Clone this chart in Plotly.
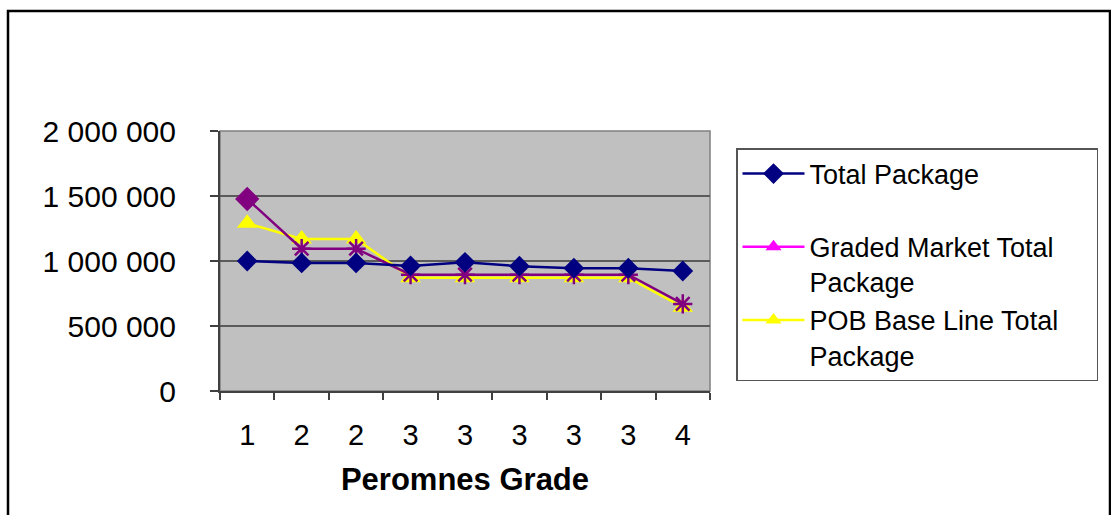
import plotly.graph_objects as go

# ---- data ----
grade_labels = ["1", "2", "2", "3", "3", "3", "3", "3", "4"]
total_package = [1000000, 985000, 985000, 962000, 990000, 960000, 945000, 945000, 923000]
graded_market = [1477000, 1095000, 1095000, 895000, 895000, 895000, 895000, 895000, 670000]
pob_base_line = [1290000, 1170000, 1170000, 872000, 872000, 872000, 872000, 872000, 645000]
y_tick_vals = [0, 500000, 1000000, 1500000, 2000000]
y_tick_text = ["0", "500 000", "1 000 000", "1 500 000", "2 000 000"]
x_title = "Peromnes Grade"
series_names = ["Total Package", "Graded Market Total<br>Package", "POB Base Line Total<br>Package"]

xs = list(range(len(grade_labels)))

FONT = "Liberation Sans, Arial, sans-serif"
NAVY = "#000080"
PURPLE = "#800080"
YELLOW = "#FFFF00"
MAGENTA = "#FF00FF"
PAD = "&nbsp;" * 5  # widens the legend box like the reference

fig = go.Figure()

# yellow series (drawn first, underneath)
fig.add_trace(go.Scatter(
    x=xs, y=pob_base_line, mode="lines+markers", showlegend=False,
    line=dict(color=YELLOW, width=2.5),
    marker=dict(symbol="triangle-up", size=18, color=YELLOW),
    name="POB Base Line Total Package"))

# purple series
fig.add_trace(go.Scatter(
    x=xs, y=graded_market, mode="lines+markers", showlegend=False,
    line=dict(color=PURPLE, width=2.5),
    marker=dict(symbol=["diamond"] + ["asterisk-open"] * (len(xs) - 1), size=16,
                color=PURPLE, line=dict(color=PURPLE, width=2.5)),
    name="Graded Market Total Package"))

# navy series
fig.add_trace(go.Scatter(
    x=xs, y=total_package, mode="lines+markers",
    line=dict(color=NAVY, width=2.5),
    marker=dict(symbol="diamond", size=16, color=NAVY),
    name=series_names[0] + "<br> ", legendrank=1))

# legend proxies
fig.add_trace(go.Scatter(
    x=[None], y=[None], mode="lines+markers",
    line=dict(color=MAGENTA, width=2.5),
    marker=dict(symbol="triangle-up", size=14, color=MAGENTA),
    name=series_names[1].replace("<br>", PAD + "<br>"), legendrank=2))
fig.add_trace(go.Scatter(
    x=[None], y=[None], mode="lines+markers",
    line=dict(color=YELLOW, width=2.5),
    marker=dict(symbol="triangle-up", size=14, color=YELLOW),
    name=series_names[2], legendrank=3))

L, R, T, B = 220, 710, 131, 391
W, H = 1111, 515

def px_x(p):
    return (p - L) / (R - L)

def px_y(p):
    return (B - p) / (B - T)

fig.update_layout(
    width=W, height=H,
    margin=dict(l=L, r=W - R, t=T, b=H - B, autoexpand=False),
    paper_bgcolor="white",
    plot_bgcolor="#C0C0C0",
    font=dict(family=FONT, color="black", size=28),
    xaxis=dict(
        range=[-0.5, len(grade_labels) - 0.5],
        tickmode="array", tickvals=xs, ticktext=grade_labels,
        ticks="", showgrid=False, zeroline=False,
        showline=True, linecolor="#404040", linewidth=2,
        tickfont=dict(size=29, family=FONT),
        ticklabelstandoff=17,
        minor=dict(tickmode="array",
                   tickvals=[i - 0.5 for i in range(len(grade_labels) + 1)],
                   ticks="outside", ticklen=7, tickwidth=1.5, tickcolor="#404040",
                   showgrid=False),
        title=dict(text="<b>" + x_title + "</b>", font=dict(size=31, family=FONT), standoff=19),
    ),
    yaxis=dict(
        range=[0, 2000000],
        tickmode="array", tickvals=y_tick_vals, ticktext=y_tick_text,
        ticks="outside", ticklen=8, tickwidth=1.5, tickcolor="#404040",
        showgrid=True, gridcolor="#5A5A5A", gridwidth=1.5,
        zeroline=False, showline=True, linecolor="#404040", linewidth=2,
        tickfont=dict(size=30, family=FONT),
        ticklabelstandoff=28,
    ),
    legend=dict(
        x=px_x(736), y=px_y(148), xanchor="left", yanchor="top",
        bgcolor="white", bordercolor="#555555", borderwidth=1.5,
        font=dict(size=27, family=FONT, color="black"),
        valign="top", itemwidth=62,
        tracegroupgap=0,
    ),
    shapes=[
        dict(type="rect", xref="paper", yref="paper", x0=0, x1=1, y0=0, y1=1,
             line=dict(color="#808080", width=1.5), layer="below"),
        dict(type="rect", xref="paper", yref="paper",
             x0=px_x(8), x1=px_x(1110), y0=px_y(520), y1=px_y(11),
             line=dict(color="black", width=2.5), layer="below"),
    ],
)

fig.write_html("out.html")
